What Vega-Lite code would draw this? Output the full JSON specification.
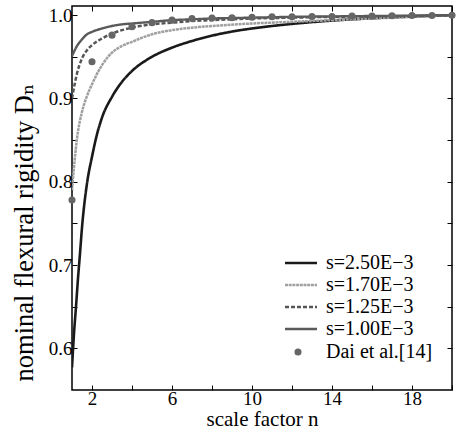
{
  "$schema": "https://vega.github.io/schema/vega-lite/v6.json",
  "width": 380,
  "height": 384,
  "autosize": {"type": "none"},
  "padding": {"left": 72, "top": 6, "right": 12, "bottom": 42},
  "background": "white",
  "config": {
    "font": "Liberation Serif, Times New Roman, DejaVu Serif, serif",
    "style": {
      "guide-label": {"font": "Liberation Serif, Times New Roman, DejaVu Serif, serif", "fontWeight": "normal"},
      "guide-title": {"font": "Liberation Serif, Times New Roman, DejaVu Serif, serif", "fontWeight": "normal"}
    },
    "view": {"stroke": "black", "strokeWidth": 1.5},
    "axis": {
      "grid": false,
      "domain": false,
      "tickColor": "black",
      "tickSize": -5,
      "tickWidth": 1,
      "labelFont": "Liberation Serif, Times New Roman, DejaVu Serif, serif",
      "labelFontWeight": "normal",
      "labelFontSize": 19,
      "labelColor": "black",
      "titleFont": "Liberation Serif, Times New Roman, DejaVu Serif, serif",
      "titleFontSize": 21,
      "titleFontWeight": "normal",
      "titleColor": "black"
    },
    "legend": {
      "labelFont": "Liberation Serif, Times New Roman, DejaVu Serif, serif",
      "labelFontWeight": "normal",
      "labelFontSize": 20,
      "labelColor": "black",
      "padding": 0
    }
  },
  "datasets": {
    "curves": [
      {"series": "s=2.50E−3", "n": 1, "D": 0.577},
      {"series": "s=2.50E−3", "n": 1.1, "D": 0.618},
      {"series": "s=2.50E−3", "n": 1.2, "D": 0.650},
      {"series": "s=2.50E−3", "n": 1.3, "D": 0.684},
      {"series": "s=2.50E−3", "n": 1.4, "D": 0.714},
      {"series": "s=2.50E−3", "n": 1.5, "D": 0.745},
      {"series": "s=2.50E−3", "n": 1.75, "D": 0.798},
      {"series": "s=2.50E−3", "n": 2, "D": 0.830},
      {"series": "s=2.50E−3", "n": 2.25, "D": 0.857},
      {"series": "s=2.50E−3", "n": 2.5, "D": 0.877},
      {"series": "s=2.50E−3", "n": 3, "D": 0.902},
      {"series": "s=2.50E−3", "n": 3.5, "D": 0.920},
      {"series": "s=2.50E−3", "n": 4, "D": 0.933},
      {"series": "s=2.50E−3", "n": 5, "D": 0.950},
      {"series": "s=2.50E−3", "n": 6, "D": 0.961},
      {"series": "s=2.50E−3", "n": 7, "D": 0.969},
      {"series": "s=2.50E−3", "n": 10, "D": 0.984},
      {"series": "s=2.50E−3", "n": 20, "D": 1.0},

      {"series": "s=1.70E−3", "n": 1, "D": 0.790},
      {"series": "s=1.70E−3", "n": 1.25, "D": 0.852},
      {"series": "s=1.70E−3", "n": 1.5, "D": 0.884},
      {"series": "s=1.70E−3", "n": 1.75, "D": 0.903},
      {"series": "s=1.70E−3", "n": 2, "D": 0.917},
      {"series": "s=1.70E−3", "n": 2.5, "D": 0.940},
      {"series": "s=1.70E−3", "n": 3, "D": 0.955},
      {"series": "s=1.70E−3", "n": 3.5, "D": 0.963},
      {"series": "s=1.70E−3", "n": 4, "D": 0.968},
      {"series": "s=1.70E−3", "n": 5, "D": 0.977},
      {"series": "s=1.70E−3", "n": 6, "D": 0.982},
      {"series": "s=1.70E−3", "n": 7, "D": 0.985},
      {"series": "s=1.70E−3", "n": 8, "D": 0.987},
      {"series": "s=1.70E−3", "n": 10, "D": 0.990},
      {"series": "s=1.70E−3", "n": 12, "D": 0.992},
      {"series": "s=1.70E−3", "n": 14, "D": 0.994},
      {"series": "s=1.70E−3", "n": 16, "D": 0.996},
      {"series": "s=1.70E−3", "n": 18, "D": 0.998},
      {"series": "s=1.70E−3", "n": 20, "D": 1.0},

      {"series": "s=1.25E−3", "n": 1, "D": 0.900},
      {"series": "s=1.25E−3", "n": 1.25, "D": 0.930},
      {"series": "s=1.25E−3", "n": 1.5, "D": 0.948},
      {"series": "s=1.25E−3", "n": 1.75, "D": 0.958},
      {"series": "s=1.25E−3", "n": 2, "D": 0.964},
      {"series": "s=1.25E−3", "n": 2.5, "D": 0.972},
      {"series": "s=1.25E−3", "n": 3, "D": 0.978},
      {"series": "s=1.25E−3", "n": 3.5, "D": 0.982},
      {"series": "s=1.25E−3", "n": 4, "D": 0.985},
      {"series": "s=1.25E−3", "n": 5, "D": 0.989},
      {"series": "s=1.25E−3", "n": 6, "D": 0.991},
      {"series": "s=1.25E−3", "n": 7, "D": 0.993},
      {"series": "s=1.25E−3", "n": 8, "D": 0.994},
      {"series": "s=1.25E−3", "n": 10, "D": 0.996},
      {"series": "s=1.25E−3", "n": 12, "D": 0.997},
      {"series": "s=1.25E−3", "n": 14, "D": 0.998},
      {"series": "s=1.25E−3", "n": 16, "D": 0.9985},
      {"series": "s=1.25E−3", "n": 18, "D": 0.999},
      {"series": "s=1.25E−3", "n": 20, "D": 1.0},

      {"series": "s=1.00E−3", "n": 1, "D": 0.951},
      {"series": "s=1.00E−3", "n": 1.25, "D": 0.963},
      {"series": "s=1.00E−3", "n": 1.5, "D": 0.971},
      {"series": "s=1.00E−3", "n": 1.75, "D": 0.977},
      {"series": "s=1.00E−3", "n": 2, "D": 0.980},
      {"series": "s=1.00E−3", "n": 2.5, "D": 0.984},
      {"series": "s=1.00E−3", "n": 3, "D": 0.987},
      {"series": "s=1.00E−3", "n": 3.5, "D": 0.989},
      {"series": "s=1.00E−3", "n": 4, "D": 0.990},
      {"series": "s=1.00E−3", "n": 5, "D": 0.992},
      {"series": "s=1.00E−3", "n": 6, "D": 0.994},
      {"series": "s=1.00E−3", "n": 7, "D": 0.995},
      {"series": "s=1.00E−3", "n": 8, "D": 0.996},
      {"series": "s=1.00E−3", "n": 10, "D": 0.997},
      {"series": "s=1.00E−3", "n": 12, "D": 0.998},
      {"series": "s=1.00E−3", "n": 14, "D": 0.9985},
      {"series": "s=1.00E−3", "n": 16, "D": 0.999},
      {"series": "s=1.00E−3", "n": 18, "D": 0.9995},
      {"series": "s=1.00E−3", "n": 20, "D": 1.0}
    ],
    "dai": [
      {"src": "Dai et al.[14]", "n": 1, "D": 0.778},
      {"src": "Dai et al.[14]", "n": 2, "D": 0.944},
      {"src": "Dai et al.[14]", "n": 3, "D": 0.976},
      {"src": "Dai et al.[14]", "n": 4, "D": 0.986},
      {"src": "Dai et al.[14]", "n": 5, "D": 0.991},
      {"src": "Dai et al.[14]", "n": 6, "D": 0.994},
      {"src": "Dai et al.[14]", "n": 7, "D": 0.996},
      {"src": "Dai et al.[14]", "n": 8, "D": 0.9965},
      {"src": "Dai et al.[14]", "n": 9, "D": 0.997},
      {"src": "Dai et al.[14]", "n": 10, "D": 0.9975},
      {"src": "Dai et al.[14]", "n": 11, "D": 0.998},
      {"src": "Dai et al.[14]", "n": 12, "D": 0.998},
      {"src": "Dai et al.[14]", "n": 13, "D": 0.9985},
      {"src": "Dai et al.[14]", "n": 14, "D": 0.9985},
      {"src": "Dai et al.[14]", "n": 15, "D": 0.999},
      {"src": "Dai et al.[14]", "n": 16, "D": 0.999},
      {"src": "Dai et al.[14]", "n": 17, "D": 0.9993},
      {"src": "Dai et al.[14]", "n": 18, "D": 0.9995},
      {"src": "Dai et al.[14]", "n": 19, "D": 0.9997},
      {"src": "Dai et al.[14]", "n": 20, "D": 1.0}
    ]
  },
  "layer": [
    {
      "data": {"name": "curves"},
      "mark": {"type": "line", "interpolate": "monotone", "clip": true},
      "encoding": {
        "x": {
          "field": "n", "type": "quantitative",
          "scale": {"domain": [1, 20], "nice": false, "zero": false},
          "axis": {
            "orient": "bottom",
            "title": "scale factor n",
            "values": [2, 4, 6, 8, 10, 12, 14, 16, 18, 20],
            "labelExpr": "indexof([2,6,10,14,18], datum.value) >= 0 ? datum.label : ''",
            "labelPadding": 4,
            "titlePadding": 0
          }
        },
        "y": {
          "field": "D", "type": "quantitative",
          "scale": {"domain": [0.55, 1.011], "nice": false, "zero": false},
          "axis": {
            "orient": "left",
            "title": "nominal flexural rigidity Dₙ",
            "titleFontSize": 26.5,
            "titleY": 226,
            "values": [0.6, 0.65, 0.7, 0.75, 0.8, 0.85, 0.9, 0.95, 1.0],
            "labelExpr": "indexof([0.6,0.7,0.8,0.9,1], round(datum.value*100)/100) >= 0 ? format(datum.value, '.1f') : ''",
            "labelPadding": 5,
            "titlePadding": 10
          }
        },
        "color": {
          "field": "series", "type": "nominal",
          "scale": {
            "domain": ["s=2.50E−3", "s=1.70E−3", "s=1.25E−3", "s=1.00E−3"],
            "range": ["#1a1a1a", "#a0a0a0", "#555555", "#5a5a5a"]
          },
          "legend": {
            "title": null,
            "orient": "none",
            "legendX": 219,
            "legendY": 247,
            "symbolType": "M-3.2,0H3.2",
            "symbolSize": 100,
            "rowPadding": 2,
            "labelOffset": 15
          }
        },
        "strokeDash": {
          "field": "series", "type": "nominal",
          "scale": {
            "domain": ["s=2.50E−3", "s=1.70E−3", "s=1.25E−3", "s=1.00E−3"],
            "range": [[1, 0], [3, 0.7], [4, 2], [1, 0]]
          },
          "legend": null
        },
        "strokeWidth": {
          "field": "series", "type": "nominal",
          "scale": {
            "domain": ["s=2.50E−3", "s=1.70E−3", "s=1.25E−3", "s=1.00E−3"],
            "range": [2.6, 2.4, 0.7, 0.8]
          },
          "legend": null
        }
      }
    },
    {
      "data": {"name": "dai"},
      "mark": {"type": "point", "filled": true, "size": 50, "color": "#666666", "opacity": 1, "clip": false},
      "encoding": {
        "x": {
          "field": "n", "type": "quantitative",
          "axis": {"orient": "top", "title": null, "labels": false, "values": [2, 4, 6, 8, 10, 12, 14, 16, 18, 20]}
        },
        "y": {
          "field": "D", "type": "quantitative",
          "axis": {"orient": "right", "title": null, "labels": false, "values": [0.6, 0.65, 0.7, 0.75, 0.8, 0.85, 0.9, 0.95, 1.0]}
        },
        "shape": {
          "field": "src", "type": "nominal",
          "scale": {"domain": ["Dai et al.[14]"], "range": ["circle"]},
          "legend": {
            "title": null, "orient": "none", "legendX": 216, "legendY": 336,
            "symbolFillColor": "#666666", "symbolStrokeColor": "#666666", "symbolSize": 50,
            "labelOffset": 18
          }
        }
      }
    }
  ]
}
